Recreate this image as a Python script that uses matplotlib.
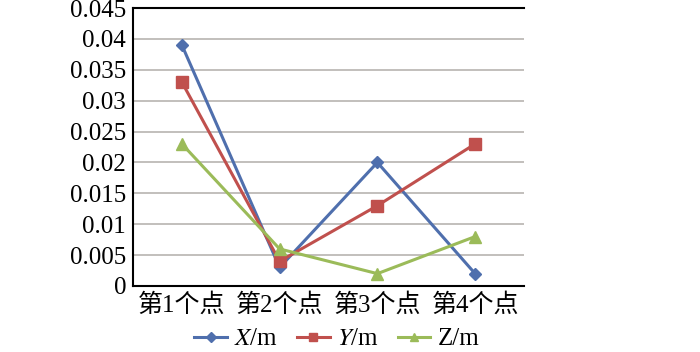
import numpy as np
import matplotlib.pyplot as plt

plt.rcParams['font.family'] = ['Liberation Serif', 'Noto Sans CJK SC']
plt.rcParams['mathtext.fontset'] = 'stix'

categories = ['第1个点', '第2个点', '第3个点', '第4个点']
x_vals = [0.039, 0.003, 0.020, 0.002]
y_vals = [0.033, 0.004, 0.013, 0.023]
z_vals = [0.023, 0.006, 0.002, 0.008]
yticks = [0, 0.005, 0.01, 0.015, 0.02, 0.025, 0.03, 0.035, 0.04, 0.045]
yticklabels = ['0', '0.005', '0.01', '0.015', '0.02', '0.025', '0.03', '0.035', '0.04', '0.045']

fig = plt.figure(figsize=(7, 3.52), dpi=100)
ax = fig.add_axes([133/700, 1 - 286/352, 391/700, 278/352])

pos = np.arange(len(categories))
ax.plot(pos, x_vals, color='#4F6FAD', lw=2.2, marker='D', ms=6.5, label='$X$/m')
ax.plot(pos, y_vals, color='#C0504D', lw=2.2, marker='s', ms=8, label='$Y$/m')
ax.plot(pos, z_vals, color='#9BBB59', lw=2.2, marker='^', ms=8, label='Z/m')

ax.set_xlim(-0.5, 3.5)
ax.set_ylim(0, 0.045)
ax.set_yticks(yticks)
ax.set_yticklabels(yticklabels)
ax.set_xticks(pos)
ax.set_xticklabels(categories)
ax.tick_params(axis='both', length=0, labelsize=18, pad=5)
ax.grid(axis='y', color='#B8B4B0', lw=1.2)
ax.set_axisbelow(True)
ax.spines['right'].set_visible(False)
for s in ['left', 'bottom', 'top']:
    ax.spines[s].set_color('black')
    ax.spines[s].set_linewidth(1.5)

fig.legend(loc='center', bbox_to_anchor=(337/700, 1 - 339/352), ncol=3, frameon=False,
           fontsize=18, handlelength=1.3, handletextpad=0.3, columnspacing=0.75,
           borderaxespad=0, markerscale=0.8)

fig.savefig('out.png', dpi=100)
